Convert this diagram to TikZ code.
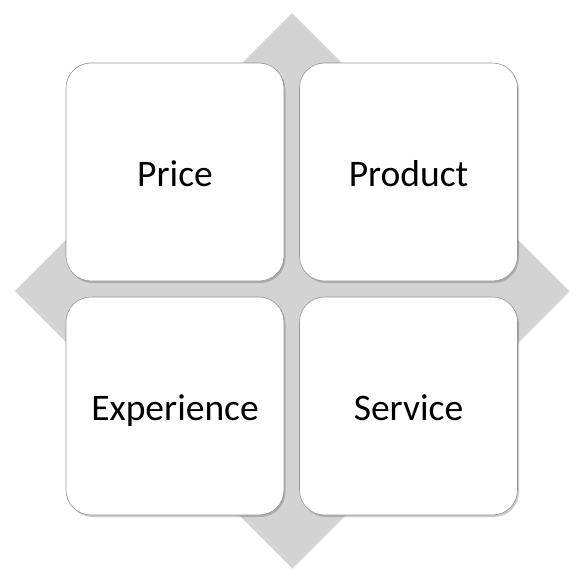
\documentclass[tikz,border=0pt]{standalone}
\usepackage{fontspec}
\setmainfont{Carlito}
\usetikzlibrary{shadows}
\definecolor{diamondgray}{RGB}{211,211,211}
\definecolor{boxborder}{RGB}{150,150,150}
\tikzset{
  quadbox/.style={rectangle, rounded corners=25pt, minimum width=218pt, minimum height=218pt,
    inner sep=0pt, draw=boxborder, line width=0.6pt, fill=white,
    drop shadow={shadow xshift=1.5pt, shadow yshift=-2pt, opacity=0.35, fill=black!60},
    font=\fontsize{37.5}{42}\selectfont, text=black, text height=28pt, text depth=0pt},
  bgdiamond/.style={fill=diamondgray, drop shadow={shadow xshift=1pt, shadow yshift=-1pt, opacity=0.15}}
}
\begin{document}
\begin{tikzpicture}[x=1pt,y=-1pt]
\useasboundingbox (0,0) rectangle (582,587);
\path[bgdiamond] (292,13) -- (569,291) -- (292,568) -- (15,291) -- cycle;
\node[quadbox] (price) at (175,172) {Price};
\node[quadbox] (product) at (408.5,172) {Product};
\node[quadbox] (experience) at (175,406) {Experience};
\node[quadbox] (service) at (408.5,406) {Service};
\end{tikzpicture}
\end{document}
